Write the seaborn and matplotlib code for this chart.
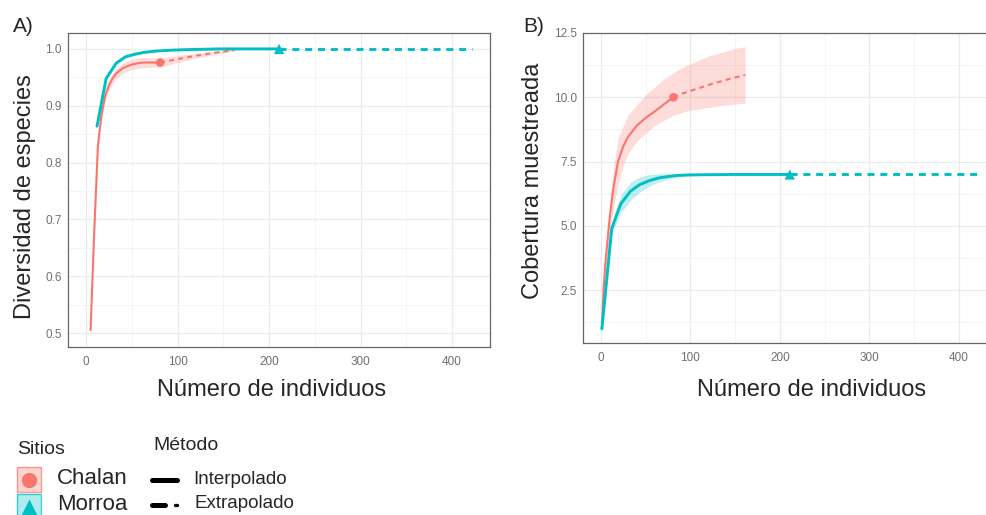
import numpy as np
import pandas as pd
import matplotlib.pyplot as plt
import matplotlib.patches as mpatches
from matplotlib.lines import Line2D
from matplotlib.ticker import MultipleLocator
import seaborn as sns

sns.set_style('white')
plt.rcParams['font.family'] = ['Liberation Sans', 'DejaVu Sans']

W, H = 987, 515
colors = {'Chalan': '#F8766D', 'Morroa': '#00BFC4'}
widths = {'Chalan': 1.5, 'Morroa': 2.1}

# ---- Panel A: Diversidad de especies ----
a_chalan_int_x = [5, 9, 13, 17, 21, 25, 29, 33, 41, 49, 57, 65, 73, 81]
a_chalan_int_y = [0.505, 0.68, 0.83, 0.885, 0.918, 0.936, 0.948, 0.957, 0.967, 0.972, 0.975, 0.976, 0.976, 0.976]
a_chalan_int_lo = [0.503, 0.67, 0.82, 0.876, 0.909, 0.927, 0.939, 0.948, 0.958, 0.963, 0.966, 0.967, 0.968, 0.968]
a_chalan_int_hi = [0.507, 0.69, 0.84, 0.894, 0.927, 0.945, 0.957, 0.966, 0.976, 0.981, 0.984, 0.985, 0.984, 0.984]
a_chalan_ext_x = [81, 100, 120, 140, 162]
a_chalan_ext_y = [0.976, 0.982, 0.988, 0.993, 0.998]
a_chalan_ext_lo = [0.968, 0.976, 0.984, 0.990, 0.996]
a_chalan_ext_hi = [0.984, 0.988, 0.992, 0.996, 1.000]

a_morroa_int_x = [12, 22, 33, 43, 54, 64, 75, 85, 96, 117, 148, 180, 211]
a_morroa_int_y = [0.864, 0.948, 0.975, 0.986, 0.991, 0.994, 0.996, 0.997, 0.998, 0.999, 1.0, 1.0, 1.0]
a_morroa_int_lo = [0.861, 0.945, 0.972, 0.984, 0.989, 0.993, 0.995, 0.996, 0.997, 0.998, 0.999, 1.0, 1.0]
a_morroa_int_hi = [0.867, 0.951, 0.978, 0.988, 0.993, 0.995, 0.997, 0.998, 0.999, 1.0, 1.0, 1.0, 1.0]
a_morroa_ext_x = [211, 260, 320, 380, 422]
a_morroa_ext_y = [1.0, 1.0, 1.0, 1.0, 1.0]

# ---- Panel B: Cobertura muestreada ----
b_chalan_int_x = [1, 3, 5, 8, 10, 14, 19, 25, 30, 40, 50, 60, 70, 81]
b_chalan_int_y = [1.0, 2.6, 3.6, 4.7, 5.4, 6.5, 7.5, 8.1, 8.45, 8.9, 9.2, 9.45, 9.72, 10.0]
b_chalan_int_lo = [1.0, 2.3, 3.2, 4.2, 4.9, 5.7, 6.6, 7.4, 7.8, 8.3, 8.6, 8.9, 9.1, 9.3]
b_chalan_int_hi = [1.0, 2.9, 4.0, 5.3, 6.0, 7.2, 8.4, 8.9, 9.3, 9.7, 10.1, 10.4, 10.7, 10.95]
b_chalan_ext_x = [81, 90, 100, 110, 120, 130, 140, 150, 161]
b_chalan_ext_y = [10.0, 10.13, 10.25, 10.36, 10.48, 10.58, 10.68, 10.77, 10.87]
b_chalan_ext_lo = [9.3, 9.4, 9.5, 9.55, 9.6, 9.65, 9.7, 9.74, 9.77]
b_chalan_ext_hi = [10.95, 11.15, 11.3, 11.45, 11.6, 11.7, 11.8, 11.9, 11.97]

b_morroa_int_x = [1, 12, 22, 33, 43, 54, 64, 75, 85, 96, 117, 148, 180, 211]
b_morroa_int_y = [1.0, 4.9, 5.85, 6.35, 6.6, 6.76, 6.86, 6.92, 6.96, 6.98, 6.99, 7.0, 7.0, 7.0]
b_morroa_int_lo = [1.0, 4.7, 5.5, 6.0, 6.3, 6.55, 6.7, 6.82, 6.9, 6.94, 6.98, 6.99, 7.0, 7.0]
b_morroa_int_hi = [1.0, 5.1, 6.2, 6.7, 6.9, 7.0, 7.03, 7.03, 7.03, 7.02, 7.01, 7.0, 7.0, 7.0]
b_morroa_ext_x = [211, 260, 320, 380, 422]
b_morroa_ext_y = [7.0, 7.0, 7.0, 7.0, 7.0]


def series(x, y, sitio, metodo, lo=None, hi=None):
    return pd.DataFrame({'m': x, 'qD': y,
                         'lo': lo if lo is not None else y,
                         'hi': hi if hi is not None else y,
                         'Sitio': sitio, 'Metodo': metodo})


df_a = pd.concat([
    series(a_chalan_int_x, a_chalan_int_y, 'Chalan', 'Interpolado', a_chalan_int_lo, a_chalan_int_hi),
    series(a_chalan_ext_x, a_chalan_ext_y, 'Chalan', 'Extrapolado', a_chalan_ext_lo, a_chalan_ext_hi),
    series(a_morroa_int_x, a_morroa_int_y, 'Morroa', 'Interpolado', a_morroa_int_lo, a_morroa_int_hi),
    series(a_morroa_ext_x, a_morroa_ext_y, 'Morroa', 'Extrapolado'),
])
df_b = pd.concat([
    series(b_chalan_int_x, b_chalan_int_y, 'Chalan', 'Interpolado', b_chalan_int_lo, b_chalan_int_hi),
    series(b_chalan_ext_x, b_chalan_ext_y, 'Chalan', 'Extrapolado', b_chalan_ext_lo, b_chalan_ext_hi),
    series(b_morroa_int_x, b_morroa_int_y, 'Morroa', 'Interpolado', b_morroa_int_lo, b_morroa_int_hi),
    series(b_morroa_ext_x, b_morroa_ext_y, 'Morroa', 'Extrapolado'),
])


def draw_panel(ax, df, xlim, ylim, ymajor):
    for (sitio, metodo), g in df.groupby(['Sitio', 'Metodo']):
        c = colors[sitio]
        ax.fill_between(g['m'], g['lo'], g['hi'], color=c, alpha=0.25, lw=0, zorder=2)
        ls = '-' if metodo == 'Interpolado' else (0, (2.4, 2.0))
        sns.lineplot(data=g, x='m', y='qD', color=c, lw=widths[sitio], linestyle=ls,
                     estimator=None, sort=False, ax=ax, zorder=3)
    # observed points
    obs = df[df['Metodo'] == 'Interpolado'].groupby('Sitio').tail(1)
    for _, r in obs.iterrows():
        mk = 'o' if r['Sitio'] == 'Chalan' else '^'
        sz = 38 if r['Sitio'] == 'Chalan' else 55
        sns.scatterplot(x=[r['m']], y=[r['qD']], marker=mk, s=sz, color=colors[r['Sitio']],
                        edgecolor='none', ax=ax, zorder=4)
    ax.set_xlim(*xlim)
    ax.set_ylim(*ylim)
    ax.xaxis.set_major_locator(MultipleLocator(100))
    ax.xaxis.set_minor_locator(MultipleLocator(50))
    ax.yaxis.set_major_locator(MultipleLocator(ymajor))
    ax.yaxis.set_minor_locator(MultipleLocator(ymajor / 2))
    ax.grid(which='major', color='#EBEBEB', lw=0.9, zorder=0)
    ax.grid(which='minor', color='#F3F3F3', lw=0.6, zorder=0)
    ax.set_axisbelow(True)
    ax.tick_params(which='major', length=2.5, width=0.7, color='#555555',
                   labelsize=8.5, labelcolor='#707070', pad=2)
    ax.tick_params(axis='x', pad=4)
    ax.tick_params(which='minor', length=0)
    for s in ax.spines.values():
        s.set_color('#666666')
        s.set_linewidth(0.9)
    ax.set_xlabel('')
    ax.set_ylabel('')


fig = plt.figure(figsize=(W / 100, H / 100), dpi=100)
ax_a = fig.add_axes([68 / W, 1 - 347 / H, 422 / W, 314 / H])
ax_b = fig.add_axes([583 / W, 1 - 343 / H, 414 / W, 310 / H])

draw_panel(ax_a, df_a, (-19.7, 441.5), (0.4754, 1.028), 0.1)
ax_a.yaxis.set_major_formatter(plt.FuncFormatter(lambda v, p: f'{v:.1f}'))
draw_panel(ax_b, df_b, (-20.1, 442.5), (0.447, 12.5), 2.5)
ax_b.yaxis.set_major_formatter(plt.FuncFormatter(lambda v, p: f'{v:.1f}'))

# overlay in pixel coordinates for titles and legend
ov = fig.add_axes([0, 0, 1, 1], zorder=10)
ov.set_xlim(0, W)
ov.set_ylim(H, 0)
ov.axis('off')
ov.patch.set_alpha(0)

ov.text(13, 27, 'A)', fontsize=15, ha='left', va='center')
ov.text(523, 27, 'B)', fontsize=15, ha='left', va='center')
ov.text(272, 396, 'Número de individuos', fontsize=17, ha='center', va='baseline')
ov.text(812, 396, 'Número de individuos', fontsize=17, ha='center', va='baseline')
ov.text(25, 197, 'Diversidad de especies', fontsize=17, ha='center', va='center', rotation=90)
ov.text(533, 181, 'Cobertura muestreada', fontsize=17, ha='center', va='center', rotation=90)

# legend: Sitios
ov.text(17, 449, 'Sitios', fontsize=14, ha='left', va='center')
for i, (sitio, mk, ms) in enumerate([('Chalan', 'o', 11), ('Morroa', '^', 11)]):
    y0 = 467 + i * 27
    ov.add_patch(mpatches.Rectangle((17, y0), 24, 25, facecolor=colors[sitio], alpha=0.3,
                                    edgecolor='none'))
    ov.add_patch(mpatches.Rectangle((17, y0), 24, 25, facecolor='none',
                                    edgecolor=colors[sitio], lw=1.0, alpha=0.7))
    ov.add_line(Line2D([29], [y0 + 12.5], marker=mk, ms=ms, color=colors[sitio], mec='none'))
    ov.text(57, y0 + 12 - i * 2, sitio, fontsize=16, ha='left', va='center')

# legend: Método
ov.text(153, 445, 'Método', fontsize=14, ha='left', va='center')
ov.add_line(Line2D([152, 177], [480, 480], color='black', lw=3.6))
ov.add_line(Line2D([152, 165], [505, 505], color='black', lw=3.6))
ov.add_line(Line2D([175, 177], [505, 505], color='black', lw=2.4))
ov.text(193, 479, 'Interpolado', fontsize=13.5, ha='left', va='center')
ov.text(195, 504, 'Extrapolado', fontsize=13.5, ha='left', va='center')

fig.savefig('out.png', dpi=100)
